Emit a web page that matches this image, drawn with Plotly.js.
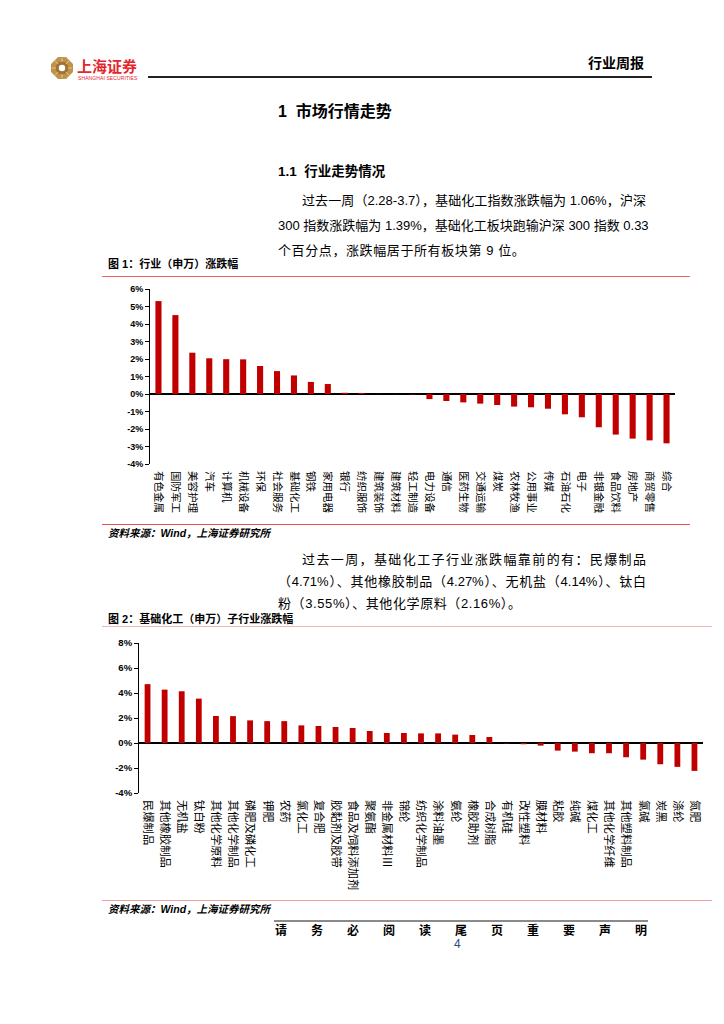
<!DOCTYPE html>
<html>
<head>
<meta charset="utf-8">
<script src="https://cdn.plot.ly/plotly-3.0.1.min.js"></script>
<style>
  html, body { margin: 0; padding: 0; background: #fff; }
  #page { position: relative; width: 724px; height: 1024px; background: #fff; overflow: hidden;
          font-family: "Liberation Sans", "Noto Sans CJK SC", sans-serif; color: #000; }
  .abs { position: absolute; white-space: nowrap; }
  .line { position: absolute; height: 0; }
  .para { position: absolute; font-size: 13px; line-height: 16px; text-align: justify; text-align-last: justify;
          white-space: nowrap; font-family: "Liberation Sans", "Noto Sans CJK SC", sans-serif; }
  .fig { position: absolute; font-size: 11px; font-weight: bold; line-height: 14px; }
  .src { position: absolute; font-size: 10.5px; font-weight: bold; font-style: italic; line-height: 14px; }
</style>
</head>
<body>
<div id="page">
  <!-- header -->
  <svg class="abs" style="left:50px;top:56px" width="24" height="24" viewBox="0 0 24 24">
    <polygon points="8,1 16,1 23,8 23,16 16,23 8,23 1,16 1,8" fill="#C0924A"/>
    <circle cx="12" cy="12" r="6.5" fill="#9E7434"/>
    <circle cx="12" cy="12" r="3.2" fill="#fff"/>
    <path d="M12 2 L12 6 M12 18 L12 22 M2 12 L6 12 M18 12 L22 12 M5 5 L8 8 M16 16 L19 19 M19 5 L16 8 M8 16 L5 19" stroke="#E2C58E" stroke-width="1"/>
  </svg>
  <div class="abs" style="left:77px;top:57px;font-size:15px;font-weight:bold;color:#E3262E;font-family:'Noto Sans CJK SC';line-height:18px;">上海证券</div>
  <div class="abs" style="left:78px;top:75px;font-size:5px;color:#E3262E;line-height:6px;letter-spacing:0.1px;">SHANGHAI SECURITIES</div>
  <div class="abs" style="left:588px;top:54px;font-size:14px;font-weight:bold;font-family:'Noto Sans CJK SC';line-height:16px;">行业周报</div>
  <div class="line" style="left:148px;top:76px;width:504px;border-top:2px solid #222;"></div>

  <div class="abs" style="left:278px;top:102px;font-size:16px;font-weight:bold;font-family:'Liberation Sans','Noto Sans CJK SC';line-height:20px;">1&nbsp;&nbsp;市场行情走势</div>
  <div class="abs" style="left:278px;top:163px;font-size:13.5px;font-weight:bold;font-family:'Liberation Sans','Noto Sans CJK SC';line-height:18px;">1.1&nbsp;&nbsp;行业走势情况</div>

  <div class="para" style="left:302px;top:193px;width:344px;">过去一周（2.28-3.7），基础化工指数涨跌幅为 1.06%，沪深</div>
  <div class="para" style="left:278px;top:218px;width:368px;">300 指数涨跌幅为 1.39%，基础化工板块跑输沪深 300 指数 0.33</div>
  <div class="para" style="left:278px;top:243px;text-align:left;text-align-last:left;letter-spacing:0.6px;">个百分点，涨跌幅居于所有板块第 9 位。</div>

  <div class="fig" style="left:108px;top:257px;">图 1：行业（申万）涨跌幅</div>
  <div class="line" style="left:102px;top:276px;width:588px;border-top:1.5px solid #EE6464;"></div>

  <div id="chart1" class="abs" style="left:100px;top:280px;width:600px;height:244px;"></div>

  <div class="line" style="left:102px;top:524px;width:588px;border-top:1.5px solid #E45050;"></div>
  <div class="src" style="left:108px;top:526px;">资料来源：Wind，上海证券研究所</div>

  <div class="para" style="left:302px;top:552px;width:344px;">过去一周，基础化工子行业涨跌幅靠前的有：民爆制品</div>
  <div class="para" style="left:278px;top:574px;width:368px;">（4.71%）、其他橡胶制品（4.27%）、无机盐（4.14%）、钛白</div>
  <div class="para" style="left:278px;top:596px;text-align:left;text-align-last:left;letter-spacing:0.6px;">粉（3.55%）、其他化学原料（2.16%）。</div>

  <div class="fig" style="left:108px;top:612px;">图 2：基础化工（申万）子行业涨跌幅</div>
  <div class="line" style="left:102px;top:626px;width:610px;border-top:1.5px solid #F5B5B5;"></div>

  <div id="chart2" class="abs" style="left:100px;top:628px;width:610px;height:272px;"></div>

  <div class="line" style="left:102px;top:900px;width:610px;border-top:1.5px solid #F4A3A3;"></div>
  <div class="src" style="left:108px;top:902px;">资料来源：Wind，上海证券研究所</div>

  <!-- footer -->
  <div class="line" style="left:274px;top:920px;width:374px;border-top:2px solid #8A8A8A;"></div>
  <div class="para" style="left:275px;top:923px;width:372px;font-size:12px;line-height:13px;font-weight:bold;font-family:'Noto Sans CJK SC';">请务必阅读尾页重要声明</div>
  <div class="abs" style="left:454px;top:938px;font-size:12px;color:#2F4A7A;line-height:13px;">4</div>
</div>

<script>
// ---- Chart 1: 行业（申万）涨跌幅 (%) ----
var industries = ["有色金属","国防军工","美容护理","汽车","计算机","机械设备","环保","社会服务","基础化工","钢铁","家用电器","银行","纺织服饰","建筑装饰","建筑材料","轻工制造","电力设备","通信","医药生物","交通运输","煤炭","农林牧渔","公用事业","传媒","石油石化","电子","非银金融","食品饮料","房地产","商贸零售","综合"];
var industryChange = [5.31,4.51,2.36,2.04,1.99,1.98,1.60,1.31,1.06,0.69,0.57,0.07,0.06,0.01,-0.01,-0.02,-0.29,-0.40,-0.48,-0.55,-0.63,-0.72,-0.76,-0.84,-1.16,-1.33,-1.90,-2.32,-2.55,-2.65,-2.82];
var yTicks1 = [6,5,4,3,2,1,0,-1,-2,-3,-4];
var yTickText1 = ["6%","5%","4%","3%","2%","1%","0%","-1%","-2%","-3%","-4%"];

// ---- Chart 2: 基础化工（申万）子行业涨跌幅 (%) ----
var subIndustries = ["民爆制品","其他橡胶制品","无机盐","钛白粉","其他化学原料","其他化学制品","磷肥及磷化工","钾肥","农药","氯化工","复合肥","胶黏剂及胶带","食品及饲料添加剂","聚氨酯","非金属材料Ⅲ","锦纶","纺织化学制品","涂料油墨","氨纶","橡胶助剂","合成树脂","有机硅","改性塑料","膜材料","粘胶","纯碱","煤化工","其他化学纤维","其他塑料制品","氯碱","炭黑","涤纶","氮肥"];
var subChange = [4.71,4.27,4.14,3.55,2.16,2.15,1.81,1.75,1.75,1.41,1.36,1.28,1.20,0.96,0.80,0.80,0.77,0.77,0.67,0.64,0.48,-0.03,-0.10,-0.21,-0.61,-0.69,-0.82,-0.82,-1.14,-1.33,-1.70,-1.91,-2.23];
var yTicks2 = [8,6,4,2,0,-2,-4];
var yTickText2 = ["8%","6%","4%","2%","0%","-2%","-4%"];

var barColor = "#C00000";
var cjk = "Noto Sans CJK SC";

function makeChart(id, cats, vals, yr, tv, tt, margin, barW, catSize, tickSize, standoff) {
  var trace = {
    type: "bar", x: cats, y: vals, width: barW,
    marker: { color: barColor, line: { width: 0 } },
    hoverinfo: "none"
  };
  var layout = {
    width: margin.w, height: margin.h,
    margin: { l: margin.l, r: margin.r, t: margin.t, b: margin.b, pad: 0 },
    paper_bgcolor: "rgba(0,0,0,0)", plot_bgcolor: "rgba(0,0,0,0)",
    showlegend: false,
    xaxis: {
      type: "category", showline: false, showgrid: false, zeroline: false,
      ticks: "", tickangle: 90, automargin: false, ticklabelstandoff: standoff,
      tickfont: { family: cjk, size: catSize, color: "#000" }
    },
    yaxis: {
      range: yr, showgrid: false, zeroline: true, zerolinecolor: "#000", zerolinewidth: 1.5,
      showline: true, linecolor: "#000", linewidth: 1,
      ticks: "outside", ticklen: 4, tickcolor: "#000", tickwidth: 1,
      tickvals: tv, ticktext: tt, automargin: false,
      tickfont: { family: "Liberation Sans", size: tickSize, color: "#000", weight: "bold" }
    }
  };
  Plotly.newPlot(id, [trace], layout, { displayModeBar: false, staticPlot: true });
}

makeChart("chart1", industries, industryChange, [-4, 6], yTicks1, yTickText1,
  { w: 600, h: 244, l: 50, r: 25, t: 9, b: 60 }, 0.36, 10.5, 9, 6);
makeChart("chart2", subIndustries, subChange, [-4, 8], yTicks2, yTickText2,
  { w: 610, h: 272, l: 39, r: 7, t: 15, b: 107 }, 0.34, 11.3, 9.5, 6);
</script>
</body>
</html>
